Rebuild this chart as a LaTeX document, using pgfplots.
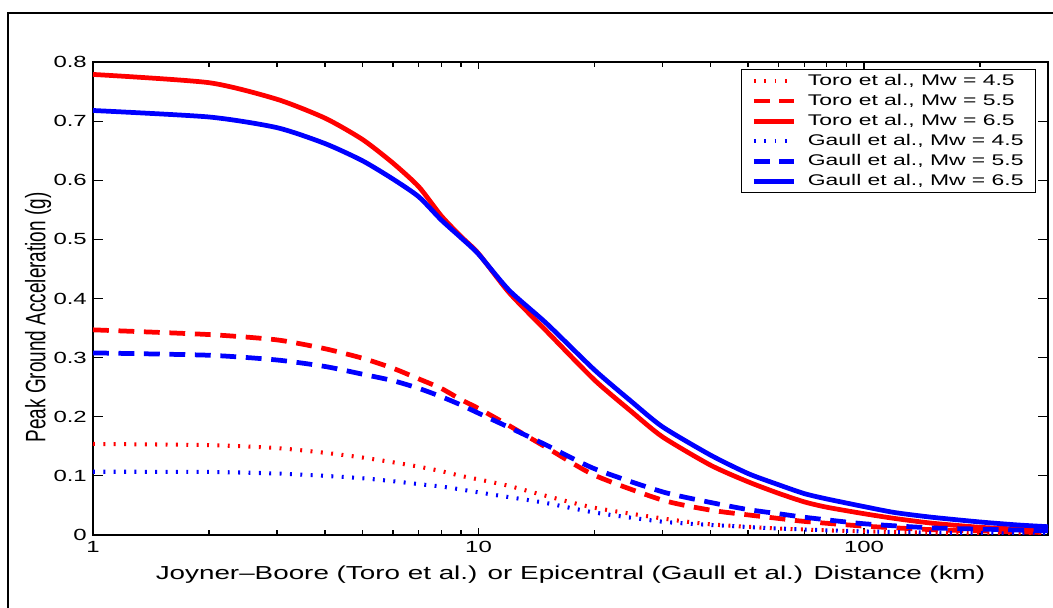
\documentclass[border=0pt]{standalone}
\usepackage{graphicx}
\usepackage{fontspec}
\setmainfont[FakeStretch=1.48]{Liberation Sans}
\newfontfamily\plainfont{Liberation Sans}
\usepackage{pgfplots}
\pgfplotsset{compat=1.18}

% Toro et al. (red) and Gaull et al. (blue), PGA in g vs distance in km
\pgfplotstableread{
x y
1 0.154
2 0.152
3 0.147
4 0.139
5 0.131
6 0.123
7 0.1155
8 0.108
9 0.100
10 0.094
12 0.083
15 0.066
20 0.046
30 0.028
40 0.018
60 0.011
100 0.006
200 0.003
300 0.002
}\toroA
\pgfplotstableread{
x y
1 0.347
2 0.339
3 0.330
4 0.315
5 0.299
6 0.282
7 0.264
8 0.248
9 0.229
10 0.214
12 0.185
15 0.148
20 0.101
30 0.059
40 0.042
50 0.034
60 0.028
70 0.023
100 0.015
150 0.009
200 0.007
300 0.004
}\toroB
\pgfplotstableread{
x y
1 0.779
2 0.765
3 0.737
4 0.705
5 0.669
6 0.629
7 0.589
8 0.540
9 0.505
10 0.476
12 0.410
15 0.345
20 0.262
25 0.208
30 0.166
40 0.118
50 0.090
60 0.0705
70 0.056
80 0.047
100 0.036
120 0.028
150 0.020
200 0.013
250 0.010
300 0.008
}\toroC
\pgfplotstableread{
x y
1 0.107
2 0.1066
3 0.104
4 0.100
5 0.096
6 0.091
7 0.086
8 0.082
9 0.077
10 0.072
12 0.064
15 0.054
20 0.038
30 0.0225
40 0.017
60 0.011
100 0.006
200 0.003
300 0.002
}\gaullA
\pgfplotstableread{
x y
1 0.308
2 0.304
3 0.296
4 0.285
5 0.272
6 0.261
7 0.248
8 0.234
9 0.220
10 0.206
12 0.182
15 0.152
20 0.112
30 0.073
40 0.055
50 0.043
60 0.036
70 0.030
100 0.019
150 0.012
200 0.010
300 0.007
}\gaullB
\pgfplotstableread{
x y
1 0.718
2 0.707
3 0.689
4 0.662
5 0.633
6 0.602
7 0.572
8 0.533
9 0.503
10 0.475
12 0.414
15 0.358
20 0.279
25 0.225
30 0.183
40 0.135
50 0.104
60 0.085
70 0.070
80 0.061
100 0.048
120 0.038
150 0.030
200 0.022
250 0.017
300 0.014
}\gaullC

\begin{document}
\begin{tikzpicture}
\begin{axis}[
    scale only axis,
    width=19.1cm, height=9.46cm,
    xmode=log, xmin=1, xmax=300,
    ymin=0, ymax=0.8,
    xtick={1,10,100}, xticklabels={1,10,100},
    minor xtick={2,3,4,5,6,7,8,9,20,30,40,50,60,70,80,90,200,300},
    ytick={0,0.1,0.2,0.3,0.4,0.5,0.6,0.7,0.8},
    yticklabels={0,0.1,0.2,0.3,0.4,0.5,0.6,0.7,0.8},
    /pgf/number format/assume math mode=true,
    tick align=inside,
    major tick length=0.2cm,
    xtick style={/pgfplots/major tick length=0.14cm, /pgfplots/minor tick length=0.09cm},
    axis line style={line width=0.8pt},
    every tick/.style={black, line width=0.7pt},
    tick label style={font=\fontsize{9.2}{10}\selectfont},
    xlabel={Joyner--Boore (Toro et al.) or Epicentral (Gaull et al.) Distance (km)},
    xlabel style={font=\fontsize{10.7}{12}\selectfont, at={(axis description cs:0.5,-0.0846)}, anchor=center},
    ylabel={\scalebox{1}[1.48]{\plainfont Peak Ground Acceleration (g)}},
    ylabel style={font=\fontsize{10.8}{12}\selectfont, at={(axis description cs:-0.0576,0.46)}, anchor=center},
    legend style={at={(1,1)}, anchor=north east, xshift=-0.24cm, yshift=-0.14cm,
        font=\fontsize{8.8}{10}\selectfont, draw=black, line width=0.8pt,
        inner xsep=0.2cm, inner ysep=0.05cm, row sep=0.05cm,
        nodes={inner sep=1pt, text height=6.5pt, text depth=1.5pt},
        /tikz/every odd column/.append style={column sep=0.2cm}},
    legend cell align=left,
    legend image code/.code={\draw[#1] (0cm,0cm) -- (0.8cm,0cm);},
    dotline/.style={smooth, tension=0.4, line width=2.3pt, dash pattern=on 1.1pt off 4.8pt},
    dashline/.style={smooth, tension=0.4, line width=2.7pt, dash pattern=on 9pt off 5.5pt},
    solidline/.style={smooth, tension=0.4, line width=2.7pt},
]
\addplot[red, dotline] table[x=x, y=y] {\toroA};
\addlegendentry{Toro et al., Mw = 4.5}
\addplot[red, dashline] table[x=x, y=y] {\toroB};
\addlegendentry{Toro et al., Mw = 5.5}
\addplot[red, solidline] table[x=x, y=y] {\toroC};
\addlegendentry{Toro et al., Mw = 6.5}
\addplot[blue, dotline] table[x=x, y=y] {\gaullA};
\addlegendentry{Gaull et al., Mw = 4.5}
\addplot[blue, dashline] table[x=x, y=y] {\gaullB};
\addlegendentry{Gaull et al., Mw = 5.5}
\addplot[blue, solidline] table[x=x, y=y] {\gaullC};
\addlegendentry{Gaull et al., Mw = 6.5}
\end{axis}
% outer figure frame (right and bottom edges fall outside the picture)
\draw[line width=0.8pt] (-1.70,-2) -- (-1.70,10.44) -- (20,10.44);
\pgfresetboundingbox
\path[use as bounding box] (-1.86,-1.46) rectangle (19.2,10.7);
\end{tikzpicture}
\end{document}
